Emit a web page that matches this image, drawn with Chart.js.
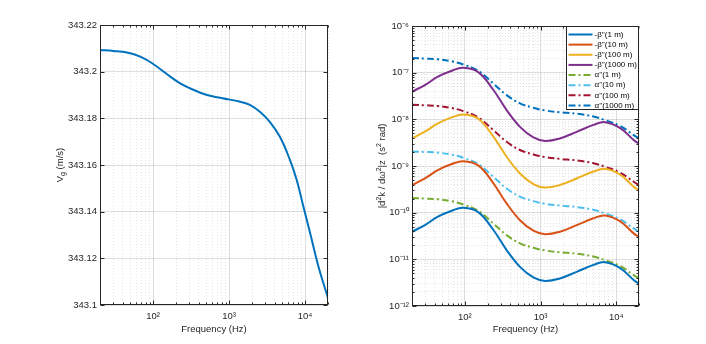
<!DOCTYPE html>
<html>
<head>
<meta charset="utf-8">
<script src="https://cdn.jsdelivr.net/npm/chart.js@4"></script>
<style>
    html, body { margin: 0; padding: 0; background: #fff; }
    #wrap { position: relative; width: 706px; height: 344px; }
    canvas { position: absolute; top: 0; }
    #left { left: 0; }
    #right { left: 353px; }
</style>
</head>
<body>
<div id="wrap">
    <canvas id="left" width="353" height="344"></canvas>
    <canvas id="right" width="353" height="344"></canvas>
</div>
<script>
// left panel: group velocity
const vgFreq = [20, 30, 50, 70, 97, 147, 221, 300, 500, 820, 1400, 1900, 2540, 3430, 4660, 6330, 7750, 9500, 11650, 15000, 20000];
const vgValues = [343.2093, 343.2089, 343.2079, 343.2062, 343.2036, 343.1993, 343.1952, 343.1930, 343.1901, 343.1886, 343.1871,
    343.1857, 343.1828, 343.1785, 343.1721, 343.1621, 343.1536, 343.1421, 343.1307, 343.1164, 343.1030];
const vgTicks = [343.1, 343.12, 343.14, 343.16, 343.18, 343.2, 343.22];

// right panel: dispersion terms
const dispFreq = [20, 30, 44, 67, 95, 150, 237, 356, 535, 803, 1150, 1800, 3000, 5000, 7150, 11300, 17000, 20000];
const beta1m = [3.9e-11, 5.5e-11, 8.2e-11, 1.1e-10, 1.27e-10, 1.03e-10, 4.3e-11, 1.58e-11, 6.9e-12, 4.1e-12, 3.45e-12, 3.9e-12, 5.4e-12, 7.6e-12, 8.7e-12, 6.5e-12, 3.6e-12, 3.0e-12];
const beta10m = [3.9e-10, 5.5e-10, 8.2e-10, 1.1e-9, 1.27e-9, 1.03e-9, 4.3e-10, 1.58e-10, 6.9e-11, 4.1e-11, 3.45e-11, 3.9e-11, 5.4e-11, 7.6e-11, 8.7e-11, 6.5e-11, 3.6e-11, 3.0e-11];
const beta100m = [3.9e-9, 5.5e-9, 8.2e-9, 1.1e-8, 1.27e-8, 1.03e-8, 4.3e-9, 1.58e-9, 6.9e-10, 4.1e-10, 3.45e-10, 3.9e-10, 5.4e-10, 7.6e-10, 8.7e-10, 6.5e-10, 3.6e-10, 3.0e-10];
const beta1000m = [3.9e-8, 5.5e-8, 8.2e-8, 1.1e-7, 1.27e-7, 1.03e-7, 4.3e-8, 1.58e-8, 6.9e-9, 4.1e-9, 3.45e-9, 3.9e-9, 5.4e-9, 7.6e-9, 8.7e-9, 6.5e-9, 3.6e-9, 3.0e-9];
const alpha1m = [2.05e-10, 2.0e-10, 1.93e-10, 1.75e-10, 1.5e-10, 1.1e-10, 5.9e-11, 3.3e-11, 2.2e-11, 1.77e-11, 1.55e-11, 1.42e-11, 1.32e-11, 1.15e-11, 9.6e-12, 7.2e-12, 4.6e-12, 3.9e-12];
const alpha10m = [2.05e-9, 2.0e-9, 1.93e-9, 1.75e-9, 1.5e-9, 1.1e-9, 5.9e-10, 3.3e-10, 2.2e-10, 1.77e-10, 1.55e-10, 1.42e-10, 1.32e-10, 1.15e-10, 9.6e-11, 7.2e-11, 4.6e-11, 3.9e-11];
const alpha100m = [2.05e-8, 2.0e-8, 1.93e-8, 1.75e-8, 1.5e-8, 1.1e-8, 5.9e-9, 3.3e-9, 2.2e-9, 1.77e-9, 1.55e-9, 1.42e-9, 1.32e-9, 1.15e-9, 9.6e-10, 7.2e-10, 4.6e-10, 3.9e-10];
const alpha1000m = [2.05e-7, 2.0e-7, 1.93e-7, 1.75e-7, 1.5e-7, 1.1e-7, 5.9e-8, 3.3e-8, 2.2e-8, 1.77e-8, 1.55e-8, 1.42e-8, 1.32e-8, 1.15e-8, 9.6e-9, 7.2e-9, 4.6e-9, 3.9e-9];
const seriesLabels = ["-β''(1 m)", "-β''(10 m)", "-β''(100 m)", "-β''(1000 m)", "α''(1 m)", "α''(10 m)", "α''(100 m)", "α''(1000 m)"];

const palette = ['#0072BD', '#D95319', '#EDB120', '#7E2F8E', '#77AC30', '#4DBEEE', '#A2142F', '#0072BD'];
const dashDot = [7, 3, 2, 3];
const axisColor = '#262626';

Chart.defaults.font.family = '"Liberation Sans", Arial, Helvetica, sans-serif';
Chart.defaults.font.size = 9;
Chart.defaults.color = axisColor;

const supers = { '-': '⁻', '0': '⁰', '1': '¹', '2': '²', '3': '³', '4': '⁴', '5': '⁵', '6': '⁶', '7': '⁷', '8': '⁸', '9': '⁹' };
const isDecade = (v) => Math.abs(Math.log10(v) - Math.round(Math.log10(v))) < 1e-9;
const decadeLabel = (v) => isDecade(v) ? '10' + String(Math.round(Math.log10(v))).split('').map((c) => supers[c]).join('') : '';

const logTicks = (min, max) => {
    const out = [];
    for (let e = Math.floor(Math.log10(min)); e <= Math.ceil(Math.log10(max)); e++) {
        for (let m = 1; m < 10; m++) {
            const v = parseFloat((m * Math.pow(10, e)).toPrecision(6));
            if (v >= min * 0.9999 && v <= max * 1.0001) out.push({ value: v, major: m === 1 });
        }
    }
    return out;
};

const logGrid = {
    color: (c) => (c.tick && isDecade(c.tick.value) ? 'rgba(0,0,0,0.13)' : 'rgba(0,0,0,0.10)'),
    drawTicks: false,
};
const logBorder = {
    display: false,
    dash: (c) => (c.tick && !isDecade(c.tick.value) ? [1, 2] : []),
};

const freqAxis = (bottom) => ({
    type: 'logarithmic',
    min: 20,
    max: 20000,
    afterBuildTicks: (scale) => { scale.ticks = logTicks(20, 20000); },
    afterFit: (scale) => { scale.height = 344 - bottom; },
    grid: logGrid,
    border: logBorder,
    ticks: { autoSkip: false, maxRotation: 0, padding: 6, font: { size: 9.5 }, callback: (v) => decadeLabel(v) },
    title: { display: true, text: 'Frequency (Hz)', padding: { top: 0, bottom: 8.6 }, font: { size: 9.5 } },
});

// axis box with inward ticks, like the original figure
const framePlugin = {
    id: 'frame',
    afterDatasetsDraw(chart) {
        const { ctx, chartArea: a, scales } = chart;
        const l = Math.round(a.left) + 0.5;
        const r = Math.round(a.right) - 0.5;
        const t = Math.round(a.top) + 0.5;
        const b = Math.round(a.bottom) - 0.5;
        ctx.save();
        ctx.strokeStyle = axisColor;
        ctx.lineWidth = 1;
        ctx.beginPath();
        scales.x.ticks.forEach((tk) => {
            const px = Math.round(scales.x.getPixelForValue(tk.value)) + 0.5;
            const len = isDecade(tk.value) ? 4 : 2;
            ctx.moveTo(px, b); ctx.lineTo(px, b - len);
            ctx.moveTo(px, t); ctx.lineTo(px, t + len);
        });
        const ylog = scales.y.type === 'logarithmic';
        scales.y.ticks.forEach((tk) => {
            const py = Math.round(scales.y.getPixelForValue(tk.value)) + 0.5;
            const len = !ylog || isDecade(tk.value) ? 4 : 2;
            ctx.moveTo(l, py); ctx.lineTo(l + len, py);
            ctx.moveTo(r, py); ctx.lineTo(r - len, py);
        });
        ctx.stroke();
        ctx.strokeRect(l, t, r - l, b - t);
        ctx.restore();
    },
};

// rotated y title made of text runs (for sub/superscripts)
const yTitlePlugin = (cx, cy, runs) => ({
    id: 'ytitle',
    afterDraw(chart) {
        const { ctx } = chart;
        ctx.save();
        ctx.fillStyle = axisColor;
        ctx.textBaseline = 'middle';
        ctx.textAlign = 'left';
        let total = 0;
        runs.forEach((run) => {
            ctx.font = `${run.size}px ${Chart.defaults.font.family}`;
            total += ctx.measureText(run.text).width;
        });
        ctx.translate(cx, cy);
        ctx.rotate(-Math.PI / 2);
        let x = -total / 2;
        runs.forEach((run) => {
            ctx.font = `${run.size}px ${Chart.defaults.font.family}`;
            ctx.fillText(run.text, x, run.shift || 0);
            x += ctx.measureText(run.text).width;
        });
        ctx.restore();
    },
});

const legendPlugin = {
    id: 'boxLegend',
    afterDraw(chart) {
        const { ctx, chartArea: a } = chart;
        const w = 73;
        const h = 83;
        const x0 = Math.round(a.right - w) + 0.5;
        const y0 = Math.round(a.top) + 0.5;
        ctx.save();
        ctx.fillStyle = '#fff';
        ctx.fillRect(x0, y0, w, h);
        ctx.strokeStyle = axisColor;
        ctx.lineWidth = 1;
        ctx.strokeRect(x0, y0, w - 1, h);
        ctx.font = `8px ${Chart.defaults.font.family}`;
        ctx.textBaseline = 'middle';
        ctx.textAlign = 'left';
        chart.data.datasets.forEach((ds, i) => {
            const yy = y0 + 8 + i * 10.14;
            ctx.strokeStyle = ds.borderColor;
            ctx.lineWidth = 2;
            ctx.setLineDash(ds.borderDash || []);
            ctx.beginPath();
            ctx.moveTo(x0 + 2, yy);
            ctx.lineTo(x0 + 26, yy);
            ctx.stroke();
            ctx.setLineDash([]);
            ctx.fillStyle = '#000';
            ctx.fillText(ds.label, x0 + 28, yy);
        });
        ctx.restore();
    },
};

const pairs = (xs, ys) => xs.map((x, i) => ({ x, y: ys[i] }));

const initLeftChart = () => {
    new Chart(document.getElementById('left'), {
        type: 'line',
        data: {
            datasets: [{
                label: 'Vg',
                data: pairs(vgFreq, vgValues),
                borderColor: palette[0],
                borderWidth: 2,
                pointRadius: 0,
                tension: 0.4,
            }],
        },
        options: {
            responsive: false,
            animation: false,
            layout: { padding: { top: 25, right: 25, left: 0, bottom: 0 } },
            plugins: { legend: { display: false }, tooltip: { enabled: false } },
            scales: {
                x: freqAxis(305),
                y: {
                    type: 'linear',
                    min: 343.1,
                    max: 343.22,
                    afterBuildTicks: (scale) => { scale.ticks = vgTicks.map((v) => ({ value: v })); },
                    afterFit: (scale) => { scale.width = 100; },
                    grid: { color: 'rgba(0,0,0,0.12)', drawTicks: false },
                    border: { display: false },
                    ticks: { padding: 3, font: { size: 9.5 }, callback: (v) => String(parseFloat(Number(v).toFixed(2))) },
                },
            },
        },
        plugins: [framePlugin, yTitlePlugin(60, 165, [
            { text: 'V', size: 9.5 },
            { text: 'g', size: 7, shift: 3 },
            { text: ' (m/s)', size: 9.5 },
        ])],
    });
};

const initRightChart = () => {
    const all = [beta1m, beta10m, beta100m, beta1000m, alpha1m, alpha10m, alpha100m, alpha1000m];
    const datasets = all.map((vals, i) => ({
        label: seriesLabels[i],
        data: pairs(dispFreq, vals),
        borderColor: palette[i],
        borderWidth: 2,
        borderDash: i >= 4 ? dashDot : [],
        pointRadius: 0,
        tension: 0.4,
    }));

    new Chart(document.getElementById('right'), {
        type: 'line',
        data: { datasets },
        options: {
            responsive: false,
            animation: false,
            layout: { padding: { top: 26, right: 67, left: 0, bottom: 0 } },
            plugins: { legend: { display: false }, tooltip: { enabled: false } },
            scales: {
                x: freqAxis(306),
                y: {
                    type: 'logarithmic',
                    min: 1e-12,
                    max: 1e-6,
                    afterBuildTicks: (scale) => { scale.ticks = logTicks(1e-12, 1e-6); },
                    afterFit: (scale) => { scale.width = 59; },
                    grid: logGrid,
                    border: logBorder,
                    ticks: { autoSkip: false, padding: 3, font: { size: 9.5 }, callback: (v) => decadeLabel(v) },
                },
            },
        },
        plugins: [framePlugin, legendPlugin, yTitlePlugin(29, 166, [
            { text: '|d', size: 9.5 },
            { text: '2', size: 7, shift: -3 },
            { text: 'k / dω', size: 9.5 },
            { text: '2', size: 7, shift: -3 },
            { text: '|z  (s', size: 9.5 },
            { text: '2', size: 7, shift: -3 },
            { text: ' rad)', size: 9.5 },
        ])],
    });
};

initLeftChart();
initRightChart();
</script>
</body>
</html>
